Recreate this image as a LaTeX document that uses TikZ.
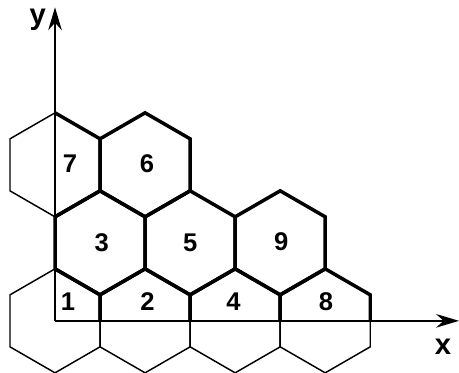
\documentclass[tikz,border=0pt]{standalone}
\usepackage{fontspec}
\setmainfont{Liberation Sans}
\usetikzlibrary{arrows.meta}

\begin{document}
\begin{tikzpicture}[
    thinhex/.style={line width=0.8pt,line join=miter},
    cell/.style={line width=1.9pt,line join=miter},
    axis/.style={line width=1.3pt,-{Stealth[length=4.4mm,width=2.6mm]}},
    num/.style={font=\fontsize{14}{16}\selectfont\bfseries},
    lab/.style={font=\fontsize{16}{18}\selectfont\bfseries}
  ]
    \useasboundingbox (-1.058,-1.0) rectangle (7.769,6.17);
    \def\w{0.866}
    % outer (thin) hexagons
    \foreach \c in {(0,0),(2*\w,0),(4*\w,0),(6*\w,0),(0,3)}
      \draw[thinhex] \c +(30:1) -- +(90:1) -- +(150:1) -- +(210:1)
        -- +(270:1) -- +(330:1) -- cycle;
    % cells in the first quadrant
    \foreach \c in {(\w,1.5),(3*\w,1.5),(5*\w,1.5),(2*\w,3)}
      \draw[cell] \c +(30:1) -- +(90:1) -- +(150:1) -- +(210:1)
        -- +(270:1) -- +(330:1) -- cycle;
    \draw[cell] (0,4) -- (\w,3.5) -- (\w,2.5) -- (0,2);
    \draw[cell] (0,1) -- (\w,0.5) -- (\w,0);
    \foreach \i in {2,4,6}
      \draw[cell] ({(\i-1)*\w},0) -- ({(\i-1)*\w},0.5) -- ({\i*\w},1)
        -- ({(\i+1)*\w},0.5) -- ({(\i+1)*\w},0);
    % axes
    \coordinate (O) at (0,0);
    \coordinate (ytip) at (0,6.03);
    \coordinate (xtip) at (7.77,0);
    \draw[axis] (O) -- (ytip);
    \draw[axis] (O) -- (xtip);
    \node[lab] (ylab) at (-0.33,5.78) {y};
    \node[lab] (xlab) at (7.46,-0.5) {x};
    \foreach \t/\x/\y in {1/0.25/0.37,2/1.78/0.37,4/3.43/0.37,8/5.21/0.37,
        3/0.9/1.5,5/2.6/1.5,9/4.35/1.52,7/0.29/3.02,6/1.77/3.02}
      \node[num] (c\t) at (\x,\y) {\t};
  \end{tikzpicture}
\end{document}
